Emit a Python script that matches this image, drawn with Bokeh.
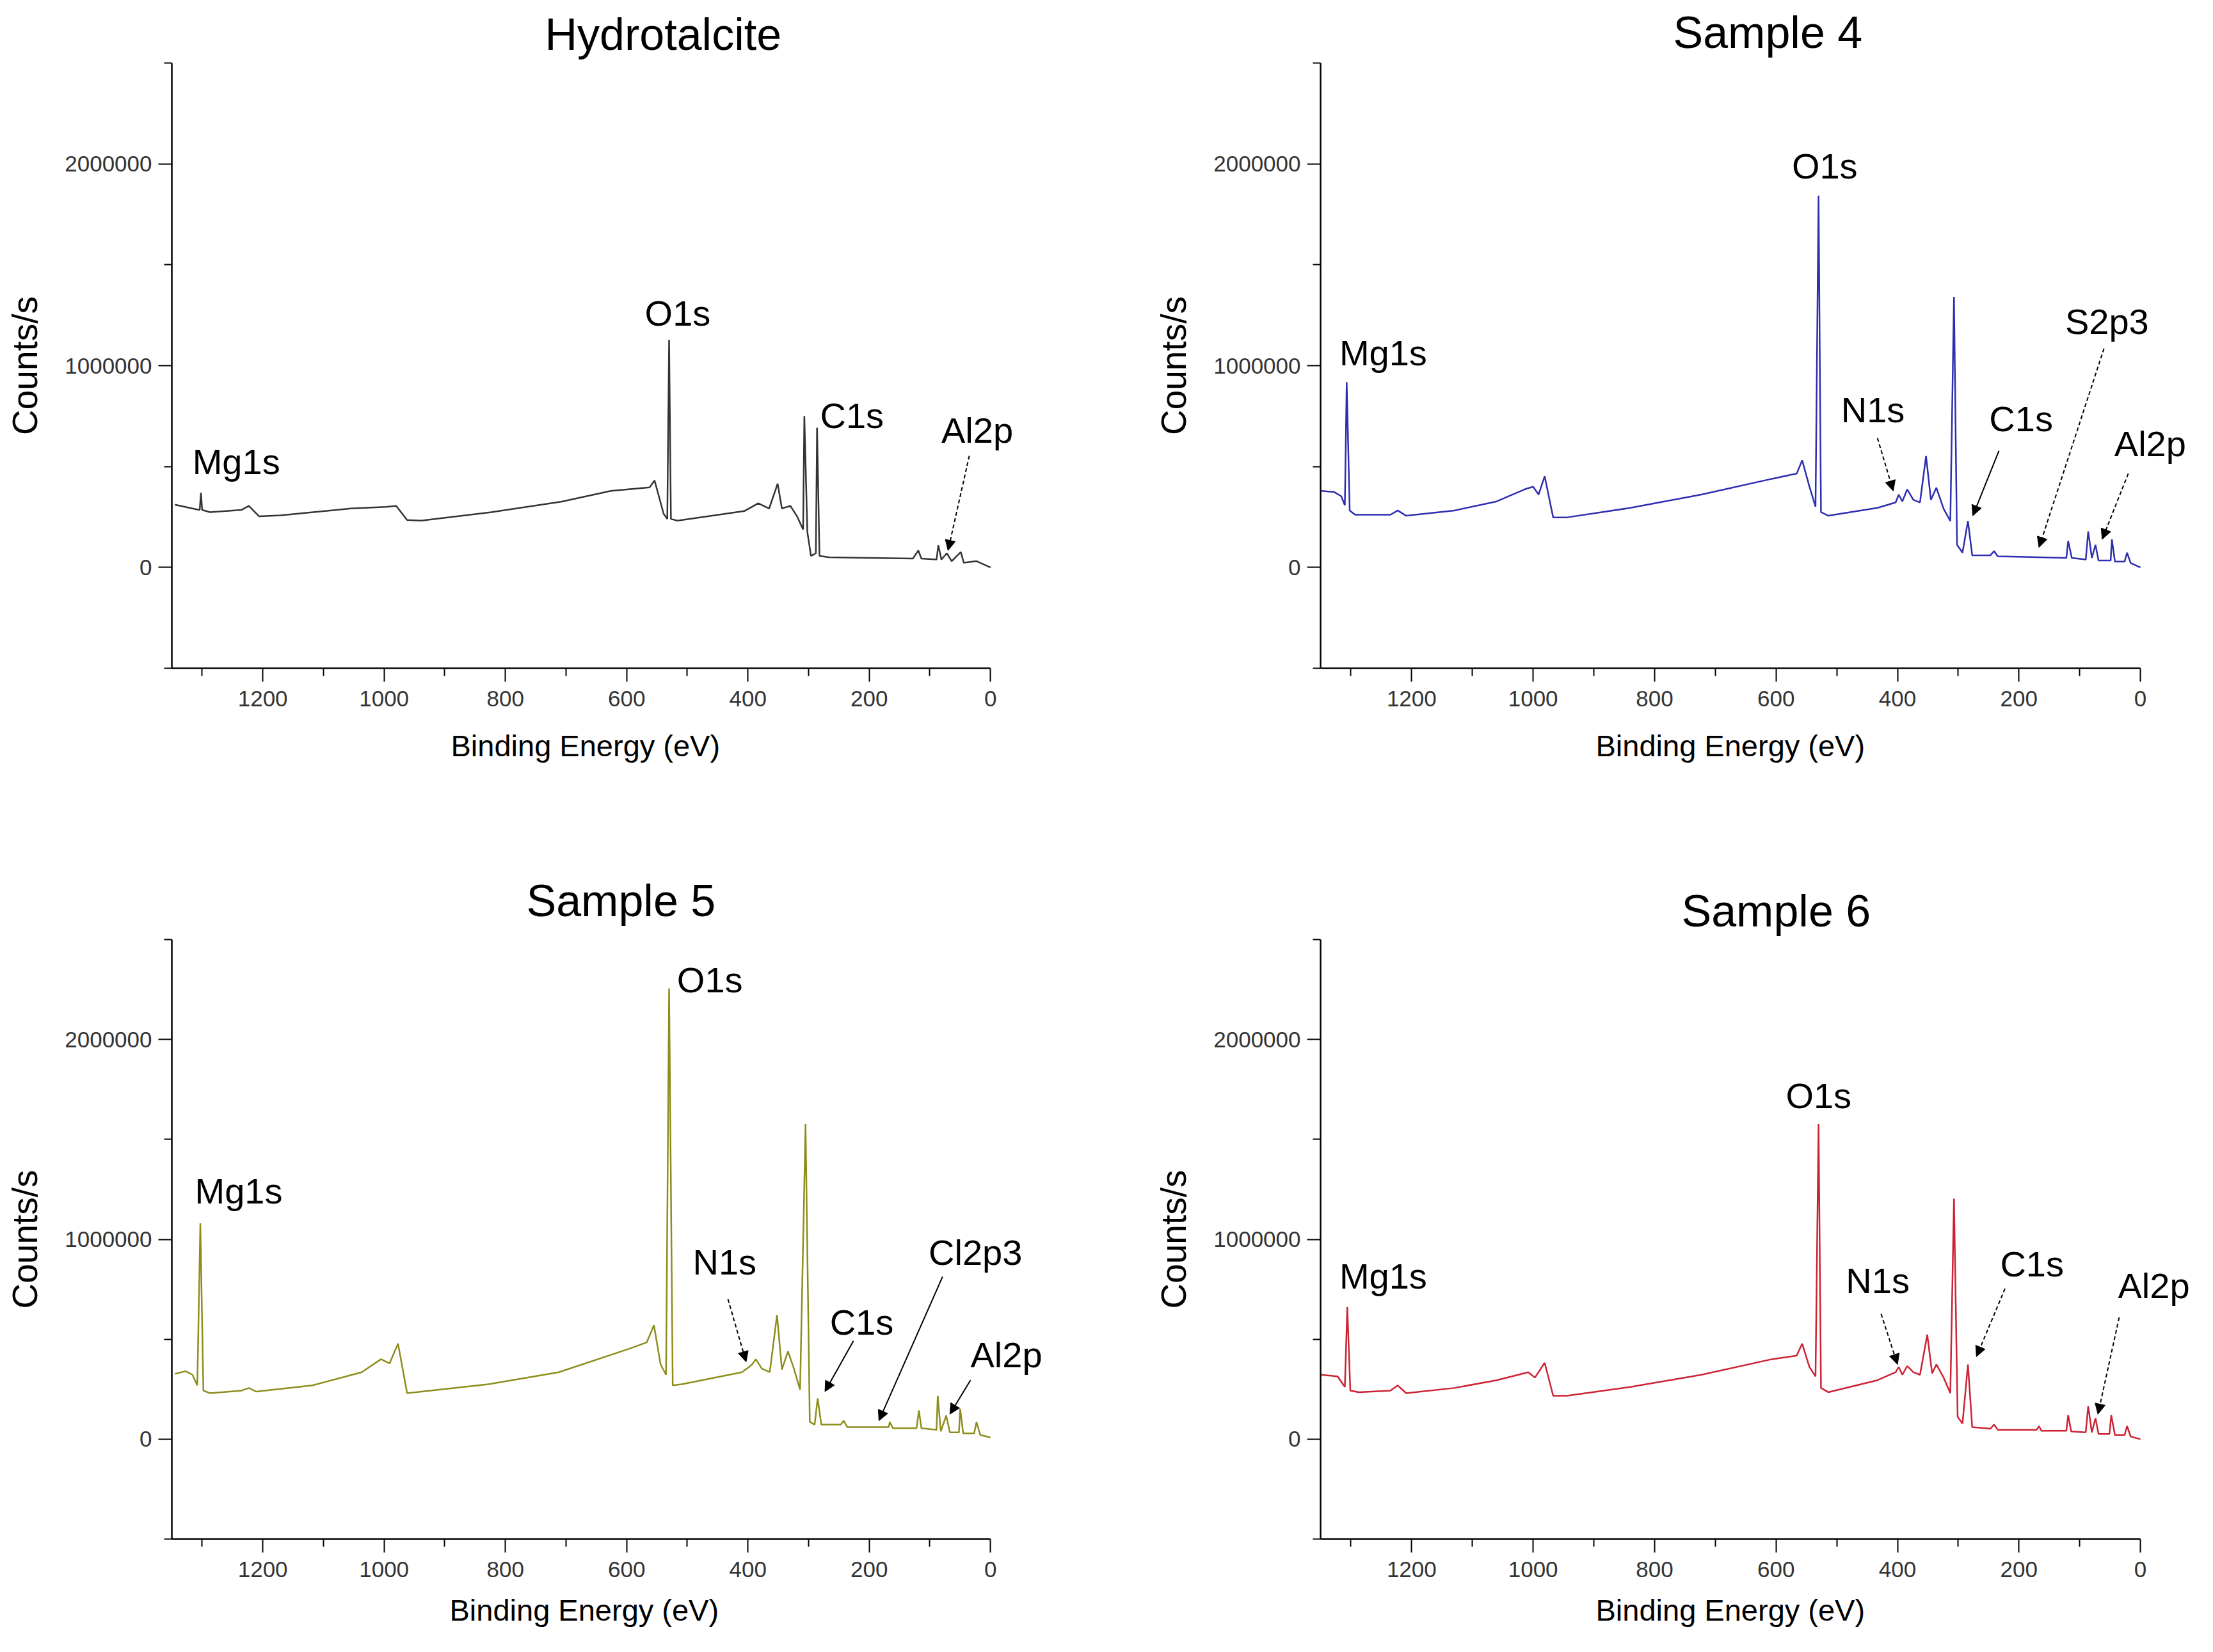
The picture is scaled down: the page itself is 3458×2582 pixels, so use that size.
from bokeh.plotting import figure
from bokeh.models import (ColumnDataSource, Range1d, FixedTicker, BasicTickFormatter,
                          LabelSet, Arrow, NormalHead, Title)
from bokeh.layouts import gridplot
from bokeh.core.properties import value
from bokeh.embed import file_html
from bokeh.resources import INLINE

FONT = "Liberation Sans"

# ---- Hydrotalcite spectrum (binding energy eV, counts/s)
hydro_be = [1345, 1316, 1304, 1302, 1300, 1287, 1235, 1223, 1206, 1171,
            1055, 997, 980, 962, 939, 823, 707, 626, 562, 554,
            539, 533, 530, 527, 516, 406, 383, 365, 351, 344,
            330, 319, 309, 307, 302, 296, 288, 286, 282, 267,
            128, 119, 114, 89, 86, 81, 72, 64, 49, 44,
            23, 0]
hydro_counts = [311000, 292000, 285000, 370000, 285000, 274000, 285000, 305000, 253000, 258000,
                292000, 300000, 305000, 235000, 232000, 274000, 326000, 379000, 397000, 431000,
                266000, 240000, 1128000, 240000, 232000, 279000, 318000, 292000, 415000, 292000,
                305000, 253000, 188000, 750000, 175000, 57000, 70000, 692000, 57000, 50000,
                44000, 84000, 44000, 39000, 110000, 39000, 70000, 31000, 76000, 23000,
                31000, 0]

# ---- Sample 4
s4_be = [1349, 1328, 1316, 1310, 1307, 1302, 1293, 1235, 1223, 1209,
         1130, 1060, 1014, 1000, 991, 981, 967, 944, 840, 723,
         607, 566, 557, 545, 535, 530, 526, 514, 433, 403,
         398, 392, 384, 374, 363, 353, 345, 336, 324, 313,
         307, 302, 293, 284, 277, 247, 241, 235, 122, 119,
         113, 90, 86, 80, 74, 69, 49, 47, 42, 26,
         22, 16, 0]
s4_counts = [379000, 374000, 353000, 308000, 918000, 282000, 261000, 261000, 282000, 256000,
             282000, 327000, 387000, 400000, 361000, 452000, 248000, 248000, 295000, 361000,
             439000, 465000, 531000, 400000, 301000, 1843000, 274000, 256000, 295000, 322000,
             361000, 327000, 387000, 335000, 322000, 552000, 335000, 395000, 290000, 230000,
             1341000, 112000, 73000, 230000, 60000, 60000, 81000, 55000, 47000, 131000,
             47000, 39000, 178000, 47000, 112000, 34000, 34000, 139000, 29000, 29000,
             73000, 21000, 0]

# ---- Sample 5
s5_be = [1345, 1327, 1316, 1308, 1303, 1298, 1287, 1235, 1223, 1211,
         1118, 1037, 1005, 991, 977, 962, 828, 712, 596, 567,
         555, 544, 535, 530, 524, 509, 410, 398, 393, 387,
         377, 364, 352, 344, 334, 325, 314, 305, 298, 290,
         285, 279, 247, 242, 236, 168, 166, 161, 122, 118,
         114, 89, 87, 82, 73, 67, 52, 50, 45, 27,
         23, 17, 0]
s5_counts = [327000, 340000, 322000, 269000, 1080000, 243000, 230000, 243000, 256000, 238000,
             269000, 335000, 400000, 379000, 478000, 230000, 275000, 335000, 452000, 484000,
             570000, 374000, 322000, 2256000, 269000, 275000, 335000, 361000, 374000, 400000,
             353000, 335000, 622000, 348000, 439000, 361000, 248000, 1576000, 86000, 73000,
             204000, 73000, 73000, 92000, 60000, 60000, 86000, 55000, 55000, 144000,
             55000, 47000, 217000, 39000, 118000, 34000, 34000, 152000, 29000, 29000,
             86000, 21000, 8000]

# ---- Sample 6
s6_be = [1349, 1322, 1310, 1306, 1301, 1287, 1235, 1223, 1209, 1130,
         1060, 1008, 997, 981, 967, 944, 840, 723, 607, 566,
         557, 545, 535, 530, 526, 514, 433, 403, 398, 392,
         384, 374, 363, 351, 343, 336, 324, 313, 307, 301,
         293, 284, 277, 247, 241, 235, 171, 167, 163, 122,
         119, 114, 90, 86, 80, 74, 69, 51, 48, 42,
         26, 22, 16, 0]
s6_counts = [322000, 314000, 261000, 661000, 243000, 235000, 243000, 269000, 230000, 256000,
             295000, 335000, 308000, 382000, 217000, 217000, 261000, 322000, 400000, 418000,
             478000, 361000, 314000, 1576000, 256000, 235000, 295000, 335000, 361000, 322000,
             366000, 335000, 322000, 523000, 329000, 374000, 308000, 230000, 1203000, 112000,
             78000, 374000, 60000, 52000, 73000, 47000, 47000, 65000, 42000, 42000,
             120000, 39000, 34000, 165000, 34000, 105000, 26000, 26000, 120000, 21000,
             21000, 65000, 13000, 0]

# ---- peak labels (left edge / baseline) and arrows
hydro_peaks = ["Mg1s", "O1s", "C1s", "Al2p"]
hydro_peak_x = [1316, 570, 281, 81]
hydro_peak_y = [462000, 1198000, 692000, 619000]
hydro_arrow = {"x0": [35], "y0": [553000], "x1": [70], "y1": [84000], "dash": ["6 4"]}

s4_peaks = ["Mg1s", "O1s", "N1s", "C1s", "S2p3", "Al2p"]
s4_peak_x = [1319, 574, 493, 249, 124, 43]
s4_peak_y = [1001000, 1929000, 719000, 675000, 1158000, 552000]
s4_arrow = {"x0": [433, 233, 60, 20], "y0": [641000, 578000, 1085000, 465000],
            "x1": [407, 276, 167, 63], "y1": [379000, 256000, 99000, 139000],
            "dash": ["6 4", "solid", "6 4", "6 4"]}

s5_peaks = ["Mg1s", "O1s", "N1s", "C1s", "Cl2p3", "Al2p"]
s5_peak_x = [1312, 517, 491, 265, 102, 33]
s5_peak_y = [1179000, 2235000, 824000, 523000, 871000, 361000]
s5_arrow = {"x0": [433, 226, 79, 33], "y0": [701000, 492000, 813000, 295000],
            "x1": [403, 273, 184, 67], "y1": [387000, 238000, 92000, 125000],
            "dash": ["6 4", "solid", "solid", "solid"]}

s6_peaks = ["Mg1s", "O1s", "N1s", "C1s", "Al2p"]
s6_peak_x = [1319, 584, 485, 231, 37]
s6_peak_y = [753000, 1655000, 732000, 813000, 706000]
s6_arrow = {"x0": [427, 223, 35], "y0": [627000, 753000, 609000],
            "x1": [400, 270, 70], "y1": [374000, 413000, 125000],
            "dash": ["6 4", "6 4", "6 4"]}

x_major = [0, 200, 400, 600, 800, 1000, 1200]
x_minor = [100, 300, 500, 700, 900, 1100, 1300]
y_major = [0, 1000000, 2000000]
y_minor = [-500000, 500000, 1500000, 2500000]

PANEL_W = 1721
PANEL_H = 1283


def make_panel(title, be, counts, color, names, lx, ly, arrows,
               borders, title_offset, title_standoff, xlabel_offset, xlabel_standoff):
    left, right, top, bottom = borders
    # the frame runs a little past 0 eV so that the peak names on the right are not cut;
    # the axis itself stops at 0 through its bounds
    p = figure(width=PANEL_W, height=PANEL_H, output_backend="svg",
               toolbar_location=None, tools="",
               x_range=Range1d(1350, -100), y_range=Range1d(-500000, 2500000),
               min_border_left=left, min_border_right=right,
               min_border_top=top, min_border_bottom=bottom)
    p.outline_line_color = None
    p.xgrid.visible = False
    p.ygrid.visible = False
    p.background_fill_color = "white"
    p.border_fill_color = "white"

    # title
    p.title.text = title
    p.title.align = "left"
    p.title.offset = title_offset
    p.title.standoff = title_standoff
    p.title.text_font = FONT
    p.title.text_font_size = "70px"
    p.title.text_font_style = "normal"
    p.title.text_color = "black"

    # axes
    p.xaxis.bounds = (0, 1350)
    p.xaxis.ticker = FixedTicker(ticks=x_major, minor_ticks=x_minor)
    p.yaxis.ticker = FixedTicker(ticks=y_major, minor_ticks=y_minor)
    p.yaxis.formatter = BasicTickFormatter(use_scientific=False)
    p.yaxis.axis_label = "Counts/s"
    for ax in (p.xaxis[0], p.yaxis[0]):
        ax.axis_line_color = "black"
        ax.axis_line_width = 2.5
        ax.major_tick_line_color = "black"
        ax.major_tick_line_width = 2
        ax.minor_tick_line_color = "black"
        ax.minor_tick_line_width = 2
        ax.major_tick_in = 0
        ax.major_tick_out = 21
        ax.minor_tick_in = 0
        ax.minor_tick_out = 12
        ax.major_label_text_font = FONT
        ax.major_label_text_font_size = "35px"
        ax.major_label_text_color = "#333333"
        ax.axis_label_text_font = FONT
        ax.axis_label_text_font_style = "normal"
        ax.axis_label_text_color = "black"
    p.xaxis.major_label_standoff = 14
    p.yaxis.major_label_standoff = 10
    p.yaxis.axis_label_standoff = 28
    p.yaxis.axis_label_text_font_size = "55px"

    # x axis title, placed under the tick labels so it can be centred on the axis (0-1350)
    p.add_layout(Title(text="Binding Energy (eV)", align="left", offset=xlabel_offset,
                       vertical_align="top", standoff=xlabel_standoff, text_font=FONT,
                       text_font_size="47px", text_font_style="normal",
                       text_color="black"), "below")

    # spectrum
    p.line(be, counts, line_color=color, line_width=2.5)

    # peak names
    src = ColumnDataSource(data=dict(x=lx, y=ly, text=names))
    p.add_layout(LabelSet(x="x", y="y", text="text", source=src,
                          text_font=value(FONT), text_font_size=value("56px"),
                          text_color="black", text_align="left",
                          text_baseline="alphabetic"))

    # arrows pointing at weak peaks
    for i in range(len(arrows["x0"])):
        p.add_layout(Arrow(end=NormalHead(size=16, fill_color="black",
                                          line_color="black", line_width=1),
                           x_start=arrows["x0"][i], y_start=arrows["y0"][i],
                           x_end=arrows["x1"][i], y_end=arrows["y1"][i],
                           line_color="black", line_width=2,
                           line_dash=arrows["dash"][i]))
    return p


p1 = make_panel("Hydrotalcite", hydro_be, hydro_counts, "#333333",
                hydro_peaks, hydro_peak_x, hydro_peak_y, hydro_arrow,
                (262, 79, 90, 239), 583, 12, 436, 64)
p2 = make_panel("Sample 4", s4_be, s4_counts, "#2e2eb0",
                s4_peaks, s4_peak_x, s4_peak_y, s4_arrow,
                (342, 3, 97, 235), 551, 18, 430, 64)
p3 = make_panel("Sample 5", s5_be, s5_counts, "#8d8d1c",
                s5_peaks, s5_peak_x, s5_peak_y, s5_arrow,
                (268, 76, 185, 155), 554, 44, 434, 44)
p4 = make_panel("Sample 6", s6_be, s6_counts, "#cc2233",
                s6_peaks, s6_peak_x, s6_peak_y, s6_arrow,
                (342, 3, 181, 159), 564, 12, 430, 44)

grid = gridplot([[p1, p2], [p3, p4]], toolbar_location=None)

open("out.html", "w").write(file_html(grid, INLINE))
